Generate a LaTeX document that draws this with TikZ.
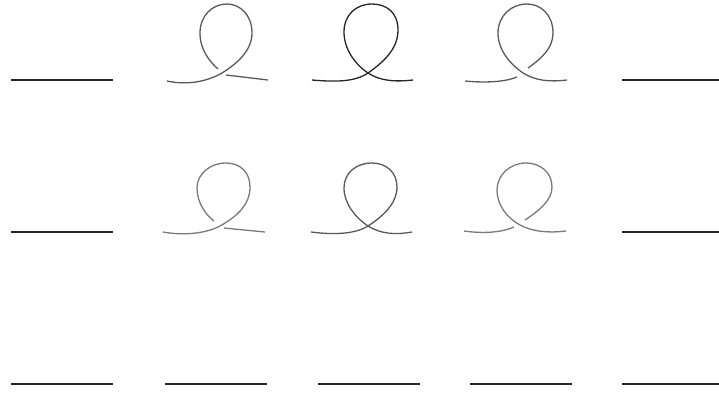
\documentclass[tikz,border=0pt]{standalone}
\usepackage{tikz}
\tikzset{
  flatstrand/.style={line width=1.3pt, draw=black!85},
  kinkdark/.style={line width=1.3pt, draw=black!85},
  kinkgray/.style={line width=1.3pt, draw=black!65},
  kinklight/.style={line width=1.3pt, draw=black!52}
}

\begin{document}
\begin{tikzpicture}[x=1pt, y=-1pt]
    \useasboundingbox (0,0) rectangle (719,392);
    % flat strands
    \foreach \sx/\sy in {11/80, 622/80, 11/232, 622/232, 11/384, 165/384, 318/384, 470/384, 622/384}
      \draw[flatstrand] (\sx,\sy) -- ++(102,0);
    % row 1: kinks
    \draw[kinkgray] (167,81) .. controls (190,86) and (210,80) .. (222,73)
      .. controls (238,63) and (252,50) .. (252,33)
      .. controls (252,15) and (240,4) .. (227,4)
      .. controls (212,4) and (200,16) .. (200,33)
      .. controls (200,50) and (210,62) .. (218,69);
    \draw[kinkgray] (226,75) -- (268,80);
    \draw[kinkdark] (312,80) .. controls (335,82) and (355,82) .. (368,73)
      .. controls (382,63) and (398,50) .. (398,30)
      .. controls (398,12) and (386,4) .. (372,4)
      .. controls (356,4) and (344,15) .. (344,32)
      .. controls (344,50) and (356,65) .. (368,73)
      .. controls (380,81) and (395,82) .. (413,80);
    \draw[kinkgray] (465,81) .. controls (485,83) and (505,82) .. (517,77);
    \draw[kinkgray] (528,68) .. controls (542,58) and (553,48) .. (553,33)
      .. controls (553,15) and (541,4) .. (527,4)
      .. controls (511,4) and (498,16) .. (498,33)
      .. controls (498,50) and (510,64) .. (523,73)
      .. controls (536,81) and (550,82) .. (567,80);
    % row 2: kinks
    \draw[kinklight] (163,232) .. controls (185,236) and (207,233) .. (220,226)
      .. controls (238,216) and (250,204) .. (250,187)
      .. controls (250,172) and (240,163) .. (226,163)
      .. controls (210,163) and (197,174) .. (197,188)
      .. controls (197,203) and (206,215) .. (214,221);
    \draw[kinklight] (224,228) -- (265,232);
    \draw[kinkgray] (311,232) .. controls (335,235) and (355,234) .. (368,226)
      .. controls (382,217) and (397,204) .. (397,187)
      .. controls (397,172) and (386,163) .. (372,163)
      .. controls (356,163) and (344,173) .. (344,188)
      .. controls (344,204) and (356,218) .. (368,226)
      .. controls (381,234) and (395,235) .. (412,232);
    \draw[kinklight] (464,231) .. controls (485,234) and (503,232) .. (514,227);
    \draw[kinklight] (525,220) .. controls (540,210) and (552,200) .. (552,187)
      .. controls (552,172) and (540,163) .. (526,163)
      .. controls (510,163) and (497,175) .. (497,190)
      .. controls (497,205) and (507,218) .. (520,225)
      .. controls (533,232) and (550,233) .. (566,231);
\end{tikzpicture}
\end{document}
